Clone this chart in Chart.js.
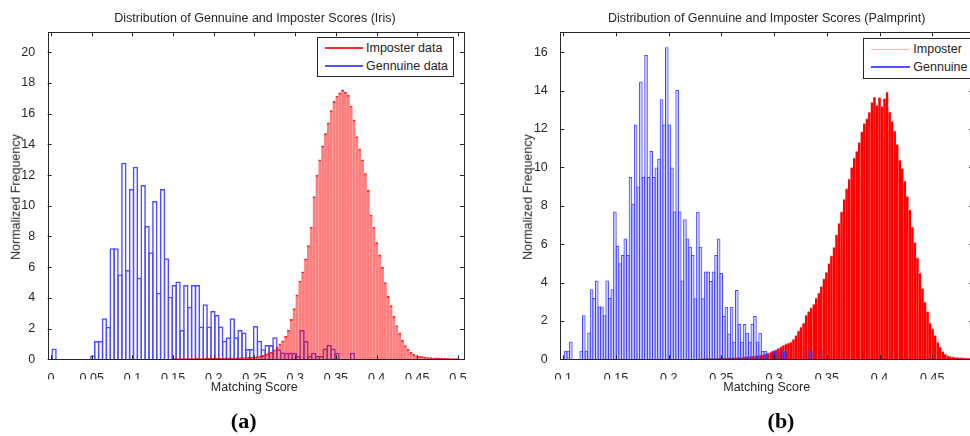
<!DOCTYPE html>
<html><head><meta charset="utf-8">
<script src="https://cdn.jsdelivr.net/npm/chart.js@4.4.1/dist/chart.umd.min.js"></script>
<style>
html,body{margin:0;padding:0;overflow:hidden;background:#fff;width:970px;height:436px;}
#wrap{position:relative;width:970px;height:436px;overflow:hidden;}
canvas{position:absolute;top:0;}
.t{position:absolute;font-family:"Liberation Sans",Arial,sans-serif;font-size:12.5px;color:#262626;white-space:nowrap;line-height:1;transform:translate(-50%,-50%);}
.rot{transform:translate(-50%,-50%) rotate(-90deg);}
.cap{position:absolute;font-family:"Liberation Serif","Times New Roman",serif;font-weight:bold;font-size:22px;color:#000;line-height:1;transform:translate(-50%,-50%);}
.leg{position:absolute;border:1px solid #262626;background:#fff;box-sizing:border-box;}
.ll{position:absolute;}
.lt{position:absolute;font-family:"Liberation Sans",Arial,sans-serif;font-size:12.5px;color:#262626;white-space:nowrap;line-height:1;transform:translateY(-50%);}
</style></head>
<body><div id="wrap">
<canvas id="c1" width="480" height="436" style="left:0"></canvas>
<canvas id="c2" width="510" height="436" style="left:490px"></canvas>

<div class="t" style="left:255px;top:17.5px">Distribution of Gennuine and Imposter Scores (Iris)</div>
<div class="t rot" style="left:16px;top:196.7px">Normalized Frequency</div>
<div class="t" style="left:254.3px;top:387.3px">Matching Score</div>
<div class="leg" style="left:317px;top:37px;width:137px;height:40px"></div>
<div class="ll" style="left:325px;top:47px;width:38px;height:2px;background:#ff2a2a"></div>
<div class="lt" id="l1a" style="left:366px;top:47.7px"></div>
<div class="ll" style="left:325px;top:65px;width:38px;height:2px;background:#5050ff"></div>
<div class="lt" id="l1b" style="left:366px;top:65.7px"></div>
<div class="cap" style="left:243.7px;top:421px">(a)</div>

<div class="t" style="left:766.7px;top:17.5px">Distribution of Gennuine and Imposter Scores (Palmprint)</div>
<div class="t rot" style="left:528.3px;top:196.7px">Normalized Frequency</div>
<div class="t" style="left:766.7px;top:387.3px">Matching Score</div>
<div class="leg" style="left:863px;top:38px;width:140px;height:41px"></div>
<div class="ll" style="left:871px;top:49px;width:39px;height:1px;background:#ffb4b4"></div>
<div class="lt" id="l2a" style="left:913.3px;top:49.3px"></div>
<div class="ll" style="left:871px;top:66px;width:39px;height:2px;background:#5050ff"></div>
<div class="lt" id="l2b" style="left:913.3px;top:67.3px"></div>
<div class="cap" style="left:781px;top:421px">(b)</div>
</div>
<script>
// ---------- data ----------
const irisLegend = ["Imposter data", "Gennuine data"];
const palmLegend = ["Imposter", "Gennuine"];

const irisXTicks = [0,0.05,0.1,0.15,0.2,0.25,0.3,0.35,0.4,0.45,0.5];
const irisYTicks = [0,2,4,6,8,10,12,14,16,18,20];
const palmXTicks = [0.1,0.15,0.2,0.25,0.3,0.35,0.4,0.45];
const palmYTicks = [0,2,4,6,8,10,12,14,16];

// bins: first bin start and bin width
const irisGenStart = 0.0014, irisGenWidth = 0.00476;
const irisGenuine = [0.7,0,0,0,0,0,0,0,0,0,
0.25,1.2,1.2,2.67,2.12,7.23,7.23,5.53,12.8,5.82,
11.1,12.55,5.32,11.36,8.68,6.97,10.31,4.34,11.1,6.58,
4.08,4.84,5.06,1.91,4.84,3.43,4.84,4.84,2.13,3.58,
2.13,3.15,2.89,2.13,1.21,1.43,2.67,1.43,1.91,1.74,
0.67,0.67,2.17,1.21,0.65,0.93,0.93,1.43,0.65,0.45,
0.43,0.43,0.43,0.21,1.91,1.19,0.21,0.43,0.21,0.21,
0.71,0.93,0.71,0.43,0,0,0,0.43];

const irisImpStart = 0.15, irisImpWidth = 0.0035;
const irisImposter = [0.04,0.04,0.05,0.05,0.05,0.05,0.05,0.05,0.06,0.05,
0.06,0.06,0.06,0.07,0.07,0.07,0.08,0.08,0.09,0.09,
0.1,0.1,0.11,0.11,0.12,0.12,0.13,0.14,0.16,0.18,
0.22,0.26,0.32,0.4,0.47,0.62,0.8,1.0,1.2,1.5,
1.9,2.6,3.3,4.2,5.1,5.7,6.55,7.4,8.6,10.6,
12.0,13.0,13.9,14.7,15.4,16.2,16.8,17.15,17.35,17.55,
17.4,17.2,16.5,15.6,14.5,13.7,13.0,12.1,11.0,9.4,
8.6,7.6,6.8,6.0,5.0,4.1,3.5,2.8,2.2,1.7,
1.25,0.9,0.65,0.45,0.32,0.24,0.2,0.17,0.14,0.12,
0.11,0.1,0.09,0.08,0.07,0.07,0.06,0.05,0.05,0.04];

const palmGenStart = 0.101, palmGenWidth = 0.00246;
const palmGenuine = [0.45,0.45,0.92,0,0,0,0.45,2.3,0.45,1.4,
3.65,3.2,4.1,2.75,2.75,2.3,4.1,3.2,3.65,7.7,
5.9,5.0,5.44,6.3,5.44,9.5,8.1,12.24,9.0,14.47,
9.5,15.86,9.5,10.85,9.5,10.0,10.45,13.55,12.24,16.26,
12.24,10.0,7.7,14.03,7.7,4.1,7.3,6.3,5.87,5.43,
3.18,7.69,5.87,3.18,4.57,4.57,4.08,4.57,5.43,6.3,
4.5,2.26,2.74,1.35,2.74,0.92,3.61,1.84,0.92,1.84,
1.39,0.92,1.84,2.26,0.92,1.39,0.45,0.45,0,0,
0.45,0.45,0,0.45,0.45,0.45,0,0,0,0,
0,0,0,0.45,0,0.45,0,0,0,0.45];

const palmImpStart = 0.226, palmImpWidth = 0.0024;
const palmImposter = [0.03,0.03,0.04,0.04,0.05,0.05,0.05,0.06,0.06,0.07,
0.07,0.08,0.08,0.09,0.09,0.1,0.11,0.11,0.12,0.14,
0.15,0.17,0.18,0.2,0.22,0.23,0.25,0.3,0.34,0.39,
0.44,0.5,0.58,0.66,0.74,0.81,0.86,0.91,1.05,1.25,
1.5,1.69,1.9,2.3,2.5,2.7,2.88,3.2,3.47,3.8,
4.2,4.55,5.0,5.4,5.85,6.5,7.1,7.7,8.35,8.9,
9.4,10.0,10.5,10.85,11.3,11.86,12.3,12.55,12.9,13.4,
13.68,13.25,13.65,13.2,13.6,13.94,12.9,12.4,11.9,11.2,
10.4,9.95,9.3,8.5,7.8,6.9,6.1,5.3,4.5,3.7,
3.0,2.5,1.9,1.6,1.25,0.9,0.65,0.42,0.28,0.19,
0.16,0.14,0.12,0.11,0.1,0.09,0.08,0.08,0.07,0.06,
0.05,0.04,0.04,0.03];

// ---------- rendering ----------
document.getElementById('l1a').textContent = irisLegend[0];
document.getElementById('l1b').textContent = irisLegend[1];
document.getElementById('l2a').textContent = palmLegend[0];
document.getElementById('l2b').textContent = palmLegend[1];

Chart.defaults.font.family = '"Liberation Sans", Arial, sans-serif';
Chart.defaults.font.size = 12.5;
Chart.defaults.color = '#262626';

function bins(vals, start, width) {
  return vals.map((v, i) => ({x: start + width * (i + 0.5), y: v === 0 ? null : v}));
}
const fmt = v => String(+(+v).toFixed(3));

const framePlugin = {
  id: 'frame',
  afterDatasetsDraw(chart) {
    const {ctx, chartArea: a, scales} = chart;
    ctx.save();
    ctx.strokeStyle = '#262626';
    ctx.lineWidth = 1;
    ctx.beginPath();
    const L = 4;
    scales.x.ticks.forEach(t => {
      const p = Math.round(scales.x.getPixelForValue(t.value)) + 0.5;
      ctx.moveTo(p, a.bottom); ctx.lineTo(p, a.bottom - L);
      ctx.moveTo(p, a.top); ctx.lineTo(p, a.top + L);
    });
    scales.y.ticks.forEach(t => {
      const p = Math.round(scales.y.getPixelForValue(t.value)) + 0.5;
      ctx.moveTo(a.left, p); ctx.lineTo(a.left + L, p);
      ctx.moveTo(a.right, p); ctx.lineTo(a.right - L, p);
    });
    ctx.stroke();
    ctx.strokeRect(Math.round(a.left) + 0.5, Math.round(a.top) + 0.5,
                   Math.round(a.right - a.left), Math.round(a.bottom - a.top));
    ctx.restore();
  }
};

function makeChart(id, cfg) {
  const xCommon = {
    type: 'linear', min: cfg.xmin, max: cfg.xmax, offset: false,
    grid: {display: false, offset: false}, border: {display: false},
  };
  return new Chart(document.getElementById(id), {
    type: 'bar',
    data: {datasets: cfg.datasets},
    options: {
      responsive: false, animation: false, events: [],
      layout: {padding: cfg.padding},
      plugins: {legend: {display: false}, tooltip: {enabled: false}, title: {display: false}},
      scales: {
        x: Object.assign({}, xCommon, {
          position: 'bottom',
          afterFit: s => { s.height = 20; },
          afterBuildTicks: s => { s.ticks = cfg.xticks.map(v => ({value: v})); },
          ticks: {callback: fmt, autoSkip: false, maxRotation: 0, padding: 4, color: '#262626'}
        }),
        x2: Object.assign({}, xCommon, {display: false, position: 'bottom'}),
        y: {
          type: 'linear', min: 0, max: cfg.ymax, position: 'left',
          grid: {display: false}, border: {display: false},
          afterFit: s => { s.width = 30; },
          afterBuildTicks: s => { s.ticks = cfg.yticks.map(v => ({value: v})); },
          ticks: {callback: fmt, padding: 4.5, color: '#262626'}
        }
      }
    },
    plugins: [framePlugin]
  });
}

// Iris chart (red imposter drawn over the blue outlines)
makeChart('c1', {
  xmin: -0.00405, xmax: 0.5074, ymax: 21.3,
  xticks: irisXTicks, yticks: irisYTicks,
  padding: {left: 17.7, right: 16, top: 32.3, bottom: 56.7},
  datasets: [
    {label: irisLegend[0], data: bins(irisImposter, irisImpStart, irisImpWidth), xAxisID: 'x2',
     order: 0, grouped: false, categoryPercentage: 1, barPercentage: 1,
     backgroundColor: 'rgba(255,0,0,0.5)', borderColor: 'rgba(255,0,0,0.85)',
     borderWidth: {top: 1, left: 0, right: 0, bottom: 0}, borderSkipped: 'start'},
    {label: irisLegend[1], data: bins(irisGenuine, irisGenStart, irisGenWidth), xAxisID: 'x',
     order: 1, grouped: false, categoryPercentage: 1, barPercentage: 1.387,
     backgroundColor: 'rgba(255,255,255,0)', borderColor: '#4d4dff',
     borderWidth: 1.5, borderSkipped: 'start'}
  ]
});

// Palmprint chart (blue genuine drawn over the solid red)
makeChart('c2', {
  xmin: 0.09715, xmax: 0.4887, ymax: 17.04,
  xticks: palmXTicks, yticks: palmYTicks,
  padding: {left: 40.3, right: 27, top: 32.3, bottom: 56.7},
  datasets: [
    {label: palmLegend[0], data: bins(palmImposter, palmImpStart, palmImpWidth), xAxisID: 'x2',
     order: 1, grouped: false, categoryPercentage: 1, barPercentage: 1,
     backgroundColor: '#ff0000', borderColor: 'rgba(255,150,150,1)',
     borderWidth: {top: 1, left: 0, right: 0, bottom: 0}, borderSkipped: 'start'},
    {label: palmLegend[1], data: bins(palmGenuine, palmGenStart, palmGenWidth), xAxisID: 'x',
     order: 0, grouped: false, categoryPercentage: 1, barPercentage: 1.386,
     backgroundColor: 'rgba(0,0,255,0.18)', borderColor: 'rgba(60,60,255,0.95)',
     borderWidth: 1, borderSkipped: 'start'}
  ]
});
</script>
</body></html>
